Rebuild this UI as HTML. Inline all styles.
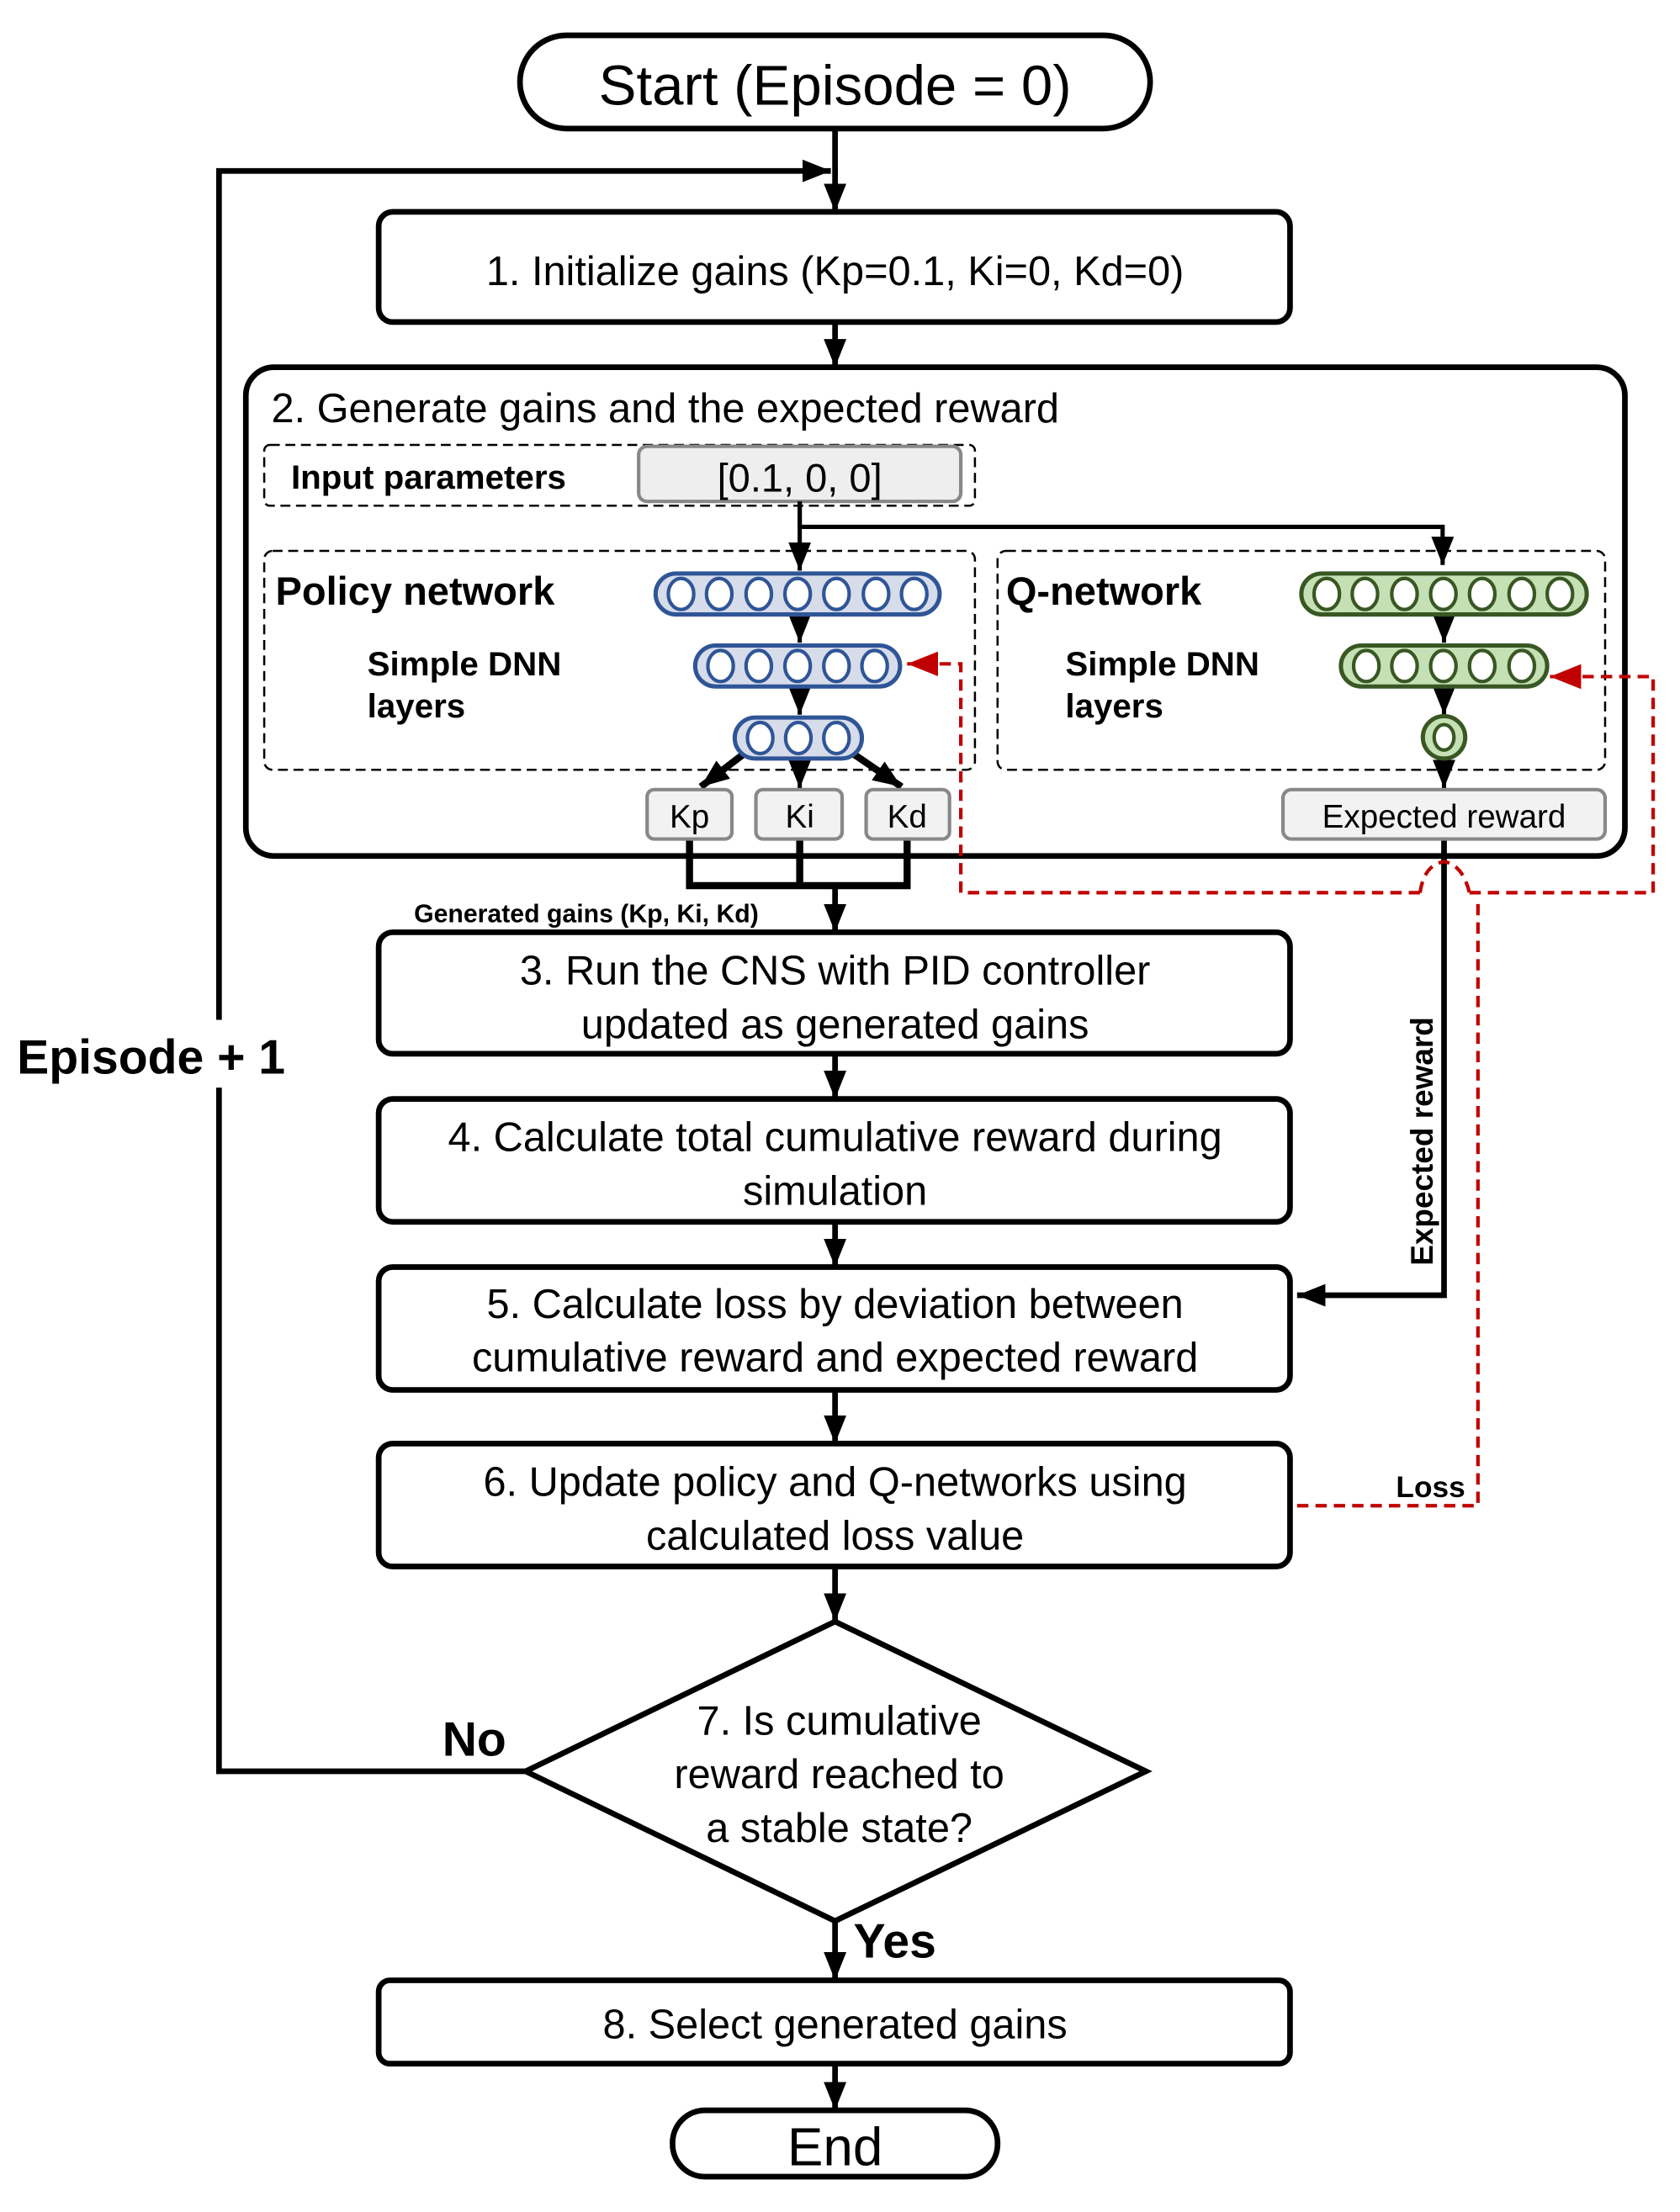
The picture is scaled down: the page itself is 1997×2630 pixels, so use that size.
<!DOCTYPE html>
<html><head><meta charset="utf-8"><style>html,body{margin:0;padding:0;background:#fff}svg{display:block}text{font-family:"Liberation Sans","DejaVu Sans",sans-serif}</style></head><body>
<svg width="1997" height="2630" viewBox="0 0 1189 1566" preserveAspectRatio="none" xmlns="http://www.w3.org/2000/svg">
<defs>
<marker id="ab" viewBox="0 0 10 10" refX="10" refY="5" markerWidth="20" markerHeight="20" orient="auto" markerUnits="userSpaceOnUse"><path d="M0,1 L10,5 L0,9z" fill="#000"/></marker>
<marker id="ar" viewBox="0 0 10 10" refX="10" refY="5" markerWidth="22" markerHeight="22" orient="auto" markerUnits="userSpaceOnUse"><path d="M0,1 L10,5 L0,9z" fill="#c00000"/></marker>
</defs>
<g fill="none" stroke="#000" stroke-width="4">
<rect x="368" y="25" width="446" height="66" rx="33"/>
<rect x="268" y="150" width="645" height="78" rx="10"/>
<rect x="174" y="260" width="976" height="346" rx="20"/>
<rect x="268" y="660" width="645" height="86" rx="10"/>
<rect x="268" y="778" width="645" height="87" rx="10"/>
<rect x="268" y="897" width="645" height="87" rx="10"/>
<rect x="268" y="1022" width="645" height="87" rx="10"/>
<path d="M591,1148 L811,1254 L591,1360 L372,1254z"/>
<rect x="268" y="1402" width="645" height="59" rx="8"/>
<rect x="476" y="1494" width="230" height="47" rx="23"/>
</g>
<g stroke="#000" stroke-width="4" fill="none" marker-end="url(#ab)">
<line x1="591" y1="91" x2="591" y2="150"/>
<polyline points="372,1254 155,1254 155,121 588,121"/>
<line x1="591" y1="228" x2="591" y2="260"/>
<line x1="591" y1="627" x2="591" y2="660"/>
<line x1="591" y1="746" x2="591" y2="778"/>
<line x1="591" y1="865" x2="591" y2="897"/>
<line x1="591" y1="984" x2="591" y2="1022"/>
<line x1="591" y1="1109" x2="591" y2="1148"/>
<line x1="591" y1="1360" x2="591" y2="1402"/>
<line x1="591" y1="1461" x2="591" y2="1494"/>
<polyline points="1022,594 1022,917 918,917"/>
</g>
<rect x="120" y="722" width="70" height="48" fill="#fff"/>
<g fill="none" stroke="#000" stroke-width="1.5" stroke-dasharray="7,4">
<rect x="187" y="315" width="503" height="43" rx="4"/>
<rect x="187" y="390" width="503" height="155" rx="6"/>
<rect x="706" y="390" width="430" height="155" rx="6"/>
</g>
<rect x="452" y="316" width="228" height="39" rx="6" fill="#eee" stroke="#888" stroke-width="2.5"/>
<g stroke="#000" stroke-width="3" fill="none">
<polyline points="566,355 566,373 1021,373 1021,400" marker-end="url(#ab)"/>
<line x1="566" y1="355" x2="566" y2="404" marker-end="url(#ab)"/>
<line x1="566" y1="435" x2="566" y2="455" marker-end="url(#ab)"/>
<line x1="566" y1="486" x2="566" y2="506" marker-end="url(#ab)"/>
<line x1="1022" y1="435" x2="1022" y2="455" marker-end="url(#ab)"/>
<line x1="1022" y1="486" x2="1022" y2="506" marker-end="url(#ab)"/>
<line x1="1022" y1="536" x2="1022" y2="558" marker-end="url(#ab)"/>
<line x1="566" y1="537" x2="566" y2="558" marker-end="url(#ab)"/>
<line x1="530" y1="531" x2="496" y2="557" marker-end="url(#ab)" stroke-width="5"/>
<line x1="600" y1="531" x2="638" y2="557" marker-end="url(#ab)" stroke-width="5"/>
<polyline points="488,594 488,627 642,627 642,594" stroke-width="5"/>
<line x1="566" y1="594" x2="566" y2="627" stroke-width="5"/>
</g>
<g fill="#f2f2f2" stroke="#888" stroke-width="2.5">
<rect x="458" y="559" width="60" height="35" rx="5"/>
<rect x="535" y="559" width="61" height="35" rx="5"/>
<rect x="613" y="559" width="59" height="35" rx="5"/>
<rect x="908" y="559" width="228" height="35" rx="6"/>
</g>
<g stroke="#2f5597" stroke-width="3">
<rect x="464" y="406" width="201" height="29" rx="14.5" fill="#d6dce9"/>
<rect x="492" y="457" width="145" height="29" rx="14.5" fill="#d6dce9"/>
<rect x="520" y="508" width="90" height="29" rx="14.5" fill="#d6dce9"/>
</g>
<g stroke="#2f5597" stroke-width="2.5" fill="#fff">
<ellipse cx="482" cy="420.5" rx="9" ry="11"/><ellipse cx="509" cy="420.5" rx="9" ry="11"/><ellipse cx="537" cy="420.5" rx="9" ry="11"/><ellipse cx="564.5" cy="420.5" rx="9" ry="11"/><ellipse cx="592" cy="420.5" rx="9" ry="11"/><ellipse cx="620" cy="420.5" rx="9" ry="11"/><ellipse cx="647" cy="420.5" rx="9" ry="11"/>
<ellipse cx="510" cy="471.5" rx="9" ry="11"/><ellipse cx="537" cy="471.5" rx="9" ry="11"/><ellipse cx="564.5" cy="471.5" rx="9" ry="11"/><ellipse cx="592" cy="471.5" rx="9" ry="11"/><ellipse cx="619" cy="471.5" rx="9" ry="11"/>
<ellipse cx="538" cy="522.5" rx="9" ry="11"/><ellipse cx="565" cy="522.5" rx="9" ry="11"/><ellipse cx="592" cy="522.5" rx="9" ry="11"/>
</g>
<g stroke="#385723" stroke-width="3">
<rect x="921" y="406" width="202" height="29" rx="14.5" fill="#c5e0b4"/>
<rect x="949" y="457" width="146" height="29" rx="14.5" fill="#c5e0b4"/>
<ellipse cx="1022" cy="522" rx="15" ry="15" fill="#c5e0b4"/>
</g>
<g stroke="#385723" stroke-width="2.5" fill="#fff">
<ellipse cx="939" cy="420.5" rx="9" ry="11"/><ellipse cx="966" cy="420.5" rx="9" ry="11"/><ellipse cx="994" cy="420.5" rx="9" ry="11"/><ellipse cx="1021.5" cy="420.5" rx="9" ry="11"/><ellipse cx="1049" cy="420.5" rx="9" ry="11"/><ellipse cx="1077" cy="420.5" rx="9" ry="11"/><ellipse cx="1104" cy="420.5" rx="9" ry="11"/>
<ellipse cx="967" cy="471.5" rx="9" ry="11"/><ellipse cx="994" cy="471.5" rx="9" ry="11"/><ellipse cx="1021.5" cy="471.5" rx="9" ry="11"/><ellipse cx="1049" cy="471.5" rx="9" ry="11"/><ellipse cx="1077" cy="471.5" rx="9" ry="11"/>
<ellipse cx="1022" cy="522" rx="7" ry="9"/>
</g>
<g stroke="#c00000" stroke-width="2.5" fill="none" stroke-dasharray="8,5">
<polyline points="1005,632 680,632 680,470 642,470" marker-end="url(#ar)"/>
<path d="M1005,632 Q1008,612 1022,610 Q1035,612 1040,632"/>
<polyline points="1040,632 1170,632 1170,479 1097,479" marker-end="url(#ar)"/>
<polyline points="1046,640 1046,1066 918,1066"/>
</g>
<g fill="#000" text-anchor="middle">
<text x="591" y="74" font-size="40">Start (Episode = 0)</text>
<text x="591" y="202" font-size="29">1. Initialize gains (Kp=0.1, Ki=0, Kd=0)</text>
<text x="566" y="348" font-size="28">[0.1, 0, 0]</text>
<text x="488" y="586" font-size="23">Kp</text>
<text x="566" y="586" font-size="23">Ki</text>
<text x="642" y="586" font-size="23">Kd</text>
<text x="1022" y="586" font-size="23">Expected reward</text>
<text x="591" y="697" font-size="29">3. Run the CNS with PID controller</text>
<text x="591" y="735" font-size="29">updated as generated gains</text>
<text x="591" y="815" font-size="29">4. Calculate total cumulative reward during</text>
<text x="591" y="853" font-size="29">simulation</text>
<text x="591" y="933" font-size="29">5. Calculate loss by deviation between</text>
<text x="591" y="971" font-size="29">cumulative reward and expected reward</text>
<text x="591" y="1059" font-size="29">6. Update policy and Q-networks using</text>
<text x="591" y="1097" font-size="29">calculated loss value</text>
<text x="594" y="1228" font-size="29">7. Is cumulative</text>
<text x="594" y="1266" font-size="29">reward reached to</text>
<text x="594" y="1304" font-size="29">a stable state?</text>
<text x="591" y="1443" font-size="29">8. Select generated gains</text>
<text x="591" y="1533" font-size="38">End</text>
</g>
<g fill="#000">
<text x="192" y="299" font-size="29">2. Generate gains and the expected reward</text>
<text x="206" y="346" font-size="24" font-weight="bold">Input parameters</text>
<text x="195" y="428" font-size="28" font-weight="bold">Policy network</text>
<text x="260" y="478" font-size="24" font-weight="bold">Simple DNN</text>
<text x="260" y="508" font-size="24" font-weight="bold">layers</text>
<text x="712" y="428" font-size="28" font-weight="bold">Q-network</text>
<text x="754" y="478" font-size="24" font-weight="bold">Simple DNN</text>
<text x="754" y="508" font-size="24" font-weight="bold">layers</text>
<text x="293" y="653" font-size="18" font-weight="bold">Generated gains (Kp, Ki, Kd)</text>
<text x="988" y="1060" font-size="21" font-weight="bold">Loss</text>
<text x="12" y="760" font-size="34" font-weight="bold">Episode + 1</text>
<text x="313" y="1243" font-size="34" font-weight="bold">No</text>
<text x="604" y="1386" font-size="34" font-weight="bold">Yes</text>
<text transform="translate(1014,808) rotate(-90)" text-anchor="middle" font-size="22" font-weight="bold">Expected reward</text>
</g>
</svg>
</body></html>
